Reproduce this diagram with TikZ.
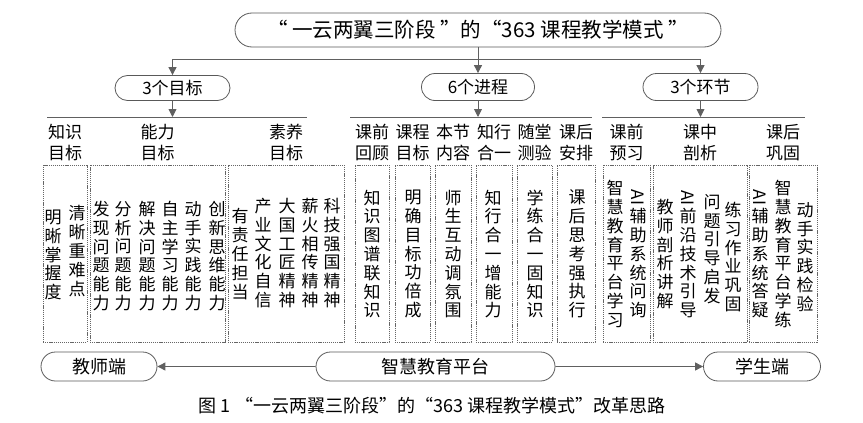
\documentclass[tikz,border=0pt]{standalone}
\usepackage{fontspec}
\setmainfont{Noto Sans CJK SC}
\usepackage{graphicx}
\usetikzlibrary{shapes.misc,arrows.meta}

\makeatletter
\newcommand\vtext[1]{\parindent0pt\expandafter\vt@do\expandafter{#1}}
\def\vt@do#1{\@tfor\vch:=#1\do{\vch\par}}
\makeatother
\newcommand\ai{\rotatebox[origin=c]{-90}{AI}}

\tikzset{
  pill/.style={rounded rectangle, draw=gray!70!black, line width=0.8pt, inner sep=0pt, font=\fontsize{17}{20}\selectfont},
  conn/.style={draw=gray!75!black, line width=0.9pt},
  arr/.style={conn, -{Triangle[length=8pt,width=8pt]}},
  dbox/.style={draw=gray!80!black, dash pattern=on 1.2pt off 0.9pt, line width=0.6pt, minimum height=177pt, inner sep=0pt},
  lab/.style={align=center, inner sep=0pt, font=\fontsize{17}{21}\selectfont},
  vcol/.style={text width=19pt, align=center, inner sep=0pt, font=\fontsize{17}{18.8}\selectfont}
}

\begin{document}
\begin{tikzpicture}[x=1pt,y=-1pt]
\useasboundingbox (0,0) rectangle (863,423);
% title and the three heads
\node[pill, minimum width=486pt, minimum height=34pt, font=\fontsize{20.5}{23}\selectfont] (title) at (478,30) {“ 一云两翼三阶段 ”的“363 课程教学模式 ”};
\node[pill, minimum width=115pt, minimum height=25pt] (goal) at (172.5,88) {3个目标};
\node[pill, minimum width=113pt, minimum height=27pt] (proc) at (478,87) {6个进程};
\node[pill, minimum width=115pt, minimum height=27pt] (link) at (700.5,87) {3个环节};
\coordinate (bw) at (172.5,59);
\coordinate (be) at (700.5,59);
\draw[conn] (bw) -- (be);
\draw[conn] (title) -- (title |- bw);
\draw[arr] (bw) -- (goal);
\draw[arr] (title |- bw) -- (proc);
\draw[arr] (be) -- (link);
% group lines
\coordinate (g1w) at (47,117);  \coordinate (g1e) at (307,117);
\coordinate (g2w) at (350,117); \coordinate (g2e) at (592,117);
\coordinate (g3w) at (602,117); \coordinate (g3e) at (805,117);
\draw[conn] (g1w) -- (g1e);
\draw[conn] (g2w) -- (g2e);
\draw[conn] (g3w) -- (g3e);
\draw[arr] (goal) -- (goal |- g1w);
\draw[arr] (proc) -- (proc |- g2w);
\draw[arr] (link) -- (link |- g3w);
% labels and dashed boxes
\foreach \n/\l/\r/\txt in {a/43/87/知识\\目标, b/90/225/能力\\目标, c/228/344/素养\\目标,
  d/355/389/课前\\回顾, e/395/430/课程\\目标, f/435/471/本节\\内容, g/476/512/知行\\合一,
  h/517/552/随堂\\测验, i/557/595/课后\\安排,
  j/603/650/课前\\预习, k/653/747/课中\\剖析, l/749/817/课后\\巩固} {
  \node[lab] (lab-\n) at ({(\l+\r)/2},142.5) {\txt};
  \node[dbox, minimum width=\r-\l] (box-\n) at ({(\l+\r)/2},253.5) {};
}
% vertical texts
\foreach \x/\y/\txt in {53/255/明晰掌握度, 77/251/清晰重难点,
  101/256/发现问题能力, 123/256/分析问题能力, 147/256/解决问题能力,
  170/256/自主学习能力, 193/256/动手实践能力, 217/256/创新思维能力,
  240/254/有责任担当, 263/253/产业文化自信, 287/253/大国工匠精神,
  310/253/薪火相传精神, 332/253/科技强国精神,
  372/254/知识图谱联知识, 413/254/明确目标功倍成, 453/254/师生互动调氛围,
  493/254/知行合一增能力, 535/254/学练合一固知识, 577/254/课后思考强执行,
  615/254/智慧教育平台学习, 638/254/\ai 辅助系统问询,
  665/254/教师剖析讲解, 688/254/\ai 前沿技术引导, 712/249/问题引导启发, 733/257/练习作业巩固,
  760/254/\ai 辅助系统答疑, 783/254/智慧教育平台学练, 805/257/动手实践检验} {
  \node[vcol] (col-\x) at (\x,\y) {\vtext{\txt}};
}
% bottom row
\node[pill, minimum width=116pt, minimum height=29pt, font=\fontsize{18}{20}\selectfont] (teacher) at (99,366.5) {教师端};
\node[pill, minimum width=239pt, minimum height=29pt, font=\fontsize{18}{20}\selectfont] (platform) at (435.5,366.5) {智慧教育平台};
\node[pill, minimum width=117pt, minimum height=29pt, font=\fontsize{18}{20}\selectfont] (student) at (762,366.5) {学生端};
\draw[arr] (platform) -- (teacher);
\draw[arr] (platform) -- (student);
\node[font=\fontsize{18}{20}\selectfont] (cap) at (432,406) {图 1 “一云两翼三阶段”的“363 课程教学模式”改革思路};
\end{tikzpicture}
\end{document}
